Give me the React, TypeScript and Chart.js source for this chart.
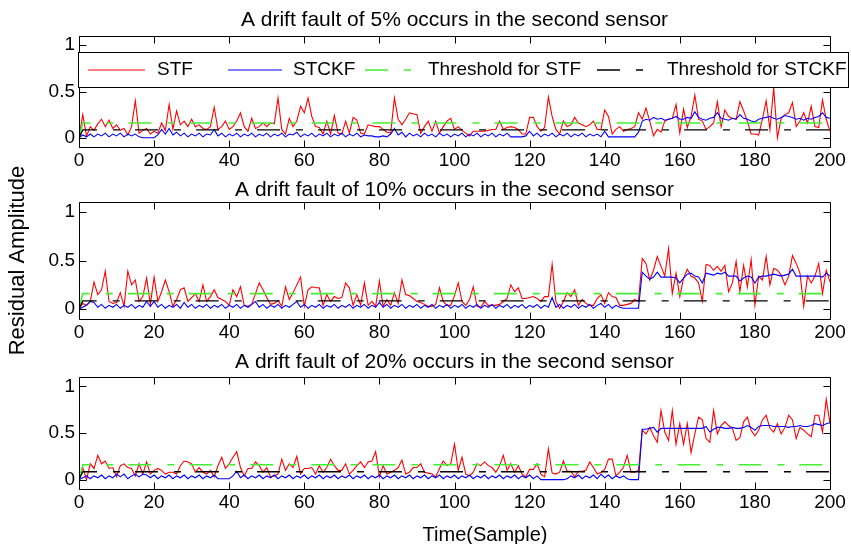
import React, { useEffect, useRef } from 'react';
import { Chart, registerables } from 'chart.js';

Chart.register(...registerables);

// ---------------- data ----------------
const SAMPLES: number[] = [];
for (let i = 0; i <= 200; i++) SAMPLES.push(i); // sample index axis (0..200)

const X_TICKS = [0, 20, 40, 60, 80, 100, 120, 140, 160, 180, 200];
const Y_TICKS = [0, 0.5, 1];

const TITLES = [
  'A drift fault of 5% occurs in the second sensor',
  'A drift fault of 10% occurs in the second sensor',
  'A drift fault of 20% occurs in the second sensor',
];
const X_LABEL = 'Time(Sample)';
const Y_LABEL = 'Residual Amplitude';

const SERIES_NAMES = ['STF', 'STCKF', 'Threshold for STF', 'Threshold for STCKF'];

// thresholds: defined at samples 0, 1 and 200
const THRESHOLD_X = [0, 1, 200];
const THRESHOLD_STF = [0, 0.16, 0.16];
const THRESHOLD_STCKF = [0, 0.085, 0.085];

// 5% drift fault
const STF_5 = [
  0.00, 0.25, 0.02, 0.12, 0.08, 0.15, 0.20, 0.12, 0.19, 0.10,
  0.14, 0.08, 0.10, 0.03, 0.12, 0.40, 0.05, 0.08, 0.10, 0.04,
  0.07, 0.05, 0.16, 0.08, 0.36, 0.09, 0.29, 0.14, 0.18, 0.12,
  0.20, 0.12, 0.14, 0.10, 0.09, 0.12, 0.33, 0.09, 0.12, 0.18,
  0.09, 0.12, 0.18, 0.27, 0.12, 0.07, 0.21, 0.10, 0.12, 0.16,
  0.12, 0.16, 0.15, 0.43, 0.09, 0.04, 0.21, 0.12, 0.18, 0.34,
  0.27, 0.43, 0.23, 0.12, 0.11, 0.04, 0.18, 0.04, 0.24, 0.05,
  0.04, 0.18, 0.05, 0.22, 0.19, 0.05, 0.04, 0.14, 0.13, 0.12,
  0.12, 0.09, 0.06, 0.05, 0.43, 0.20, 0.14, 0.20, 0.27, 0.26,
  0.25, 0.05, 0.12, 0.18, 0.07, 0.18, 0.05, 0.12, 0.18, 0.21,
  0.09, 0.12, 0.08, 0.05, 0.02, 0.07, 0.07, 0.07, 0.07, 0.08,
  0.09, 0.09, 0.18, 0.09, 0.11, 0.12, 0.11, 0.09, 0.04, 0.04,
  0.22, 0.22, 0.12, 0.07, 0.11, 0.44, 0.23, 0.09, 0.04, 0.18,
  0.12, 0.14, 0.22, 0.16, 0.14, 0.12, 0.14, 0.18, 0.09, 0.09,
  0.30, 0.23, 0.04, 0.09, 0.12, 0.07, 0.09, 0.10, 0.12, 0.27,
  0.20, 0.32, 0.18, 0.02, 0.09, 0.06, 0.18, 0.20, 0.21, 0.36,
  0.05, 0.31, 0.11, 0.23, 0.46, 0.20, 0.18, 0.09, 0.12, 0.16,
  0.39, 0.12, 0.30, 0.23, 0.21, 0.20, 0.39, 0.29, 0.18, 0.04,
  0.04, 0.03, 0.20, 0.40, 0.09, 0.54, 0.00, 0.21, 0.25, 0.27,
  0.38, 0.12, 0.18, 0.27, 0.16, 0.34, 0.12, 0.11, 0.41, 0.20,
  0.07,
];
const STCKF_5 = [
  0.00, 0.03, 0.01, 0.04, 0.01, 0.04, 0.02, 0.05, 0.01, 0.04,
  0.02, 0.05, 0.01, 0.04, 0.02, 0.04, 0.01, 0.00, 0.00, 0.00,
  0.00, 0.03, 0.09, 0.04, 0.10, 0.03, 0.06, 0.02, 0.05, 0.01,
  0.04, 0.02, 0.05, 0.01, 0.04, 0.03, 0.09, 0.02, 0.05, 0.01,
  0.04, 0.02, 0.05, 0.01, 0.04, 0.02, 0.05, 0.01, 0.04, 0.02,
  0.05, 0.01, 0.04, 0.02, 0.05, 0.01, 0.04, 0.03, 0.06, 0.01,
  0.04, 0.02, 0.05, 0.01, 0.04, 0.02, 0.05, 0.01, 0.04, 0.02,
  0.05, 0.01, 0.04, 0.02, 0.05, 0.01, 0.03, 0.02, 0.02, 0.01,
  0.01, 0.02, 0.01, 0.04, 0.10, 0.03, 0.06, 0.01, 0.05, 0.02,
  0.04, 0.01, 0.05, 0.02, 0.04, 0.01, 0.05, 0.02, 0.04, 0.01,
  0.04, 0.02, 0.05, 0.01, 0.04, 0.02, 0.05, 0.01, 0.04, 0.02,
  0.05, 0.01, 0.04, 0.02, 0.05, 0.01, 0.01, 0.01, 0.01, 0.02,
  0.07, 0.02, 0.05, 0.01, 0.04, 0.02, 0.05, 0.01, 0.04, 0.02,
  0.05, 0.01, 0.04, 0.02, 0.05, 0.01, 0.04, 0.02, 0.04, 0.01,
  0.07, 0.01, 0.01, 0.01, 0.01, 0.01, 0.01, 0.01, 0.01, 0.06,
  0.18, 0.20, 0.19, 0.22, 0.20, 0.21, 0.19, 0.20, 0.21, 0.23,
  0.20, 0.20, 0.22, 0.21, 0.28, 0.22, 0.20, 0.19, 0.21, 0.22,
  0.27, 0.21, 0.20, 0.19, 0.21, 0.20, 0.25, 0.21, 0.20, 0.18,
  0.17, 0.20, 0.21, 0.22, 0.23, 0.21, 0.20, 0.22, 0.24, 0.23,
  0.22, 0.20, 0.21, 0.19, 0.21, 0.20, 0.22, 0.23, 0.27, 0.22,
  0.21,
];

// 10% drift fault
const STF_10 = [
  0.00, 0.06, 0.04, 0.08, 0.28, 0.15, 0.20, 0.39, 0.08, 0.06,
  0.07, 0.17, 0.03, 0.39, 0.25, 0.30, 0.08, 0.13, 0.32, 0.05,
  0.33, 0.08, 0.18, 0.30, 0.18, 0.03, 0.10, 0.20, 0.22, 0.08,
  0.12, 0.16, 0.08, 0.25, 0.08, 0.13, 0.20, 0.12, 0.10, 0.08,
  0.04, 0.20, 0.13, 0.23, 0.04, 0.03, 0.05, 0.16, 0.27, 0.20,
  0.12, 0.05, 0.06, 0.09, 0.03, 0.23, 0.10, 0.17, 0.25, 0.33,
  0.03, 0.20, 0.23, 0.22, 0.22, 0.04, 0.15, 0.08, 0.13, 0.11,
  0.12, 0.27, 0.22, 0.04, 0.15, 0.04, 0.27, 0.04, 0.08, 0.03,
  0.29, 0.03, 0.10, 0.04, 0.17, 0.06, 0.30, 0.15, 0.14, 0.11,
  0.08, 0.07, 0.05, 0.03, 0.03, 0.05, 0.22, 0.08, 0.04, 0.04,
  0.14, 0.27, 0.08, 0.04, 0.10, 0.23, 0.03, 0.02, 0.08, 0.04,
  0.04, 0.04, 0.05, 0.08, 0.11, 0.25, 0.18, 0.22, 0.11, 0.11,
  0.12, 0.13, 0.11, 0.08, 0.13, 0.13, 0.46, 0.08, 0.01, 0.08,
  0.17, 0.13, 0.20, 0.04, 0.10, 0.06, 0.04, 0.04, 0.11, 0.15,
  0.06, 0.17, 0.13, 0.12, 0.04, 0.04, 0.05, 0.06, 0.10, 0.08,
  0.52, 0.47, 0.30, 0.40, 0.54, 0.44, 0.34, 0.62, 0.16, 0.37,
  0.13, 0.32, 0.41, 0.34, 0.32, 0.27, 0.08, 0.46, 0.45, 0.40,
  0.44, 0.39, 0.45, 0.18, 0.27, 0.49, 0.18, 0.45, 0.23, 0.51,
  0.04, 0.34, 0.30, 0.54, 0.25, 0.42, 0.40, 0.35, 0.25, 0.34,
  0.55, 0.47, 0.37, 0.03, 0.34, 0.27, 0.34, 0.47, 0.16, 0.40,
  0.28,
];
const STCKF_10 = [
  0.00, 0.02, 0.04, 0.08, 0.07, 0.02, 0.05, 0.01, 0.04, 0.02,
  0.05, 0.01, 0.04, 0.02, 0.05, 0.01, 0.04, 0.02, 0.08, 0.03,
  0.08, 0.02, 0.05, 0.01, 0.04, 0.02, 0.05, 0.01, 0.07, 0.02,
  0.05, 0.01, 0.04, 0.02, 0.05, 0.01, 0.04, 0.02, 0.05, 0.01,
  0.04, 0.02, 0.05, 0.01, 0.04, 0.02, 0.05, 0.08, 0.02, 0.05,
  0.01, 0.04, 0.02, 0.05, 0.01, 0.04, 0.02, 0.05, 0.08, 0.02,
  0.05, 0.01, 0.04, 0.02, 0.05, 0.01, 0.04, 0.02, 0.05, 0.01,
  0.04, 0.02, 0.05, 0.01, 0.04, 0.02, 0.05, 0.01, 0.04, 0.02,
  0.07, 0.02, 0.05, 0.01, 0.04, 0.02, 0.05, 0.01, 0.04, 0.02,
  0.05, 0.01, 0.04, 0.02, 0.05, 0.01, 0.04, 0.02, 0.05, 0.01,
  0.04, 0.02, 0.05, 0.01, 0.04, 0.02, 0.05, 0.01, 0.04, 0.02,
  0.05, 0.01, 0.04, 0.02, 0.05, 0.01, 0.04, 0.02, 0.05, 0.01,
  0.04, 0.02, 0.05, 0.01, 0.04, 0.02, 0.12, 0.02, 0.05, 0.01,
  0.04, 0.02, 0.05, 0.01, 0.04, 0.02, 0.05, 0.01, 0.04, 0.06,
  0.02, 0.05, 0.01, 0.04, 0.02, 0.01, 0.01, 0.01, 0.01, 0.01,
  0.38, 0.34, 0.31, 0.33, 0.38, 0.33, 0.33, 0.33, 0.33, 0.32,
  0.27, 0.32, 0.36, 0.37, 0.34, 0.33, 0.27, 0.37, 0.36, 0.35,
  0.37, 0.36, 0.38, 0.34, 0.34, 0.34, 0.29, 0.32, 0.34, 0.33,
  0.27, 0.33, 0.34, 0.34, 0.35, 0.36, 0.35, 0.34, 0.35, 0.36,
  0.41, 0.34, 0.34, 0.34, 0.34, 0.34, 0.34, 0.34, 0.33, 0.37,
  0.34,
];

// 20% drift fault
const STF_20 = [
  0.01, 0.13, 0.00, 0.17, 0.12, 0.26, 0.17, 0.20, 0.12, 0.13,
  0.03, 0.15, 0.17, 0.13, 0.12, 0.04, 0.17, 0.06, 0.19, 0.06,
  0.10, 0.12, 0.10, 0.06, 0.08, 0.08, 0.06, 0.15, 0.20, 0.19,
  0.17, 0.08, 0.13, 0.08, 0.06, 0.10, 0.03, 0.15, 0.24, 0.12,
  0.17, 0.24, 0.30, 0.13, 0.04, 0.12, 0.12, 0.19, 0.15, 0.08,
  0.13, 0.03, 0.04, 0.06, 0.22, 0.10, 0.17, 0.13, 0.25, 0.06,
  0.12, 0.12, 0.13, 0.06, 0.15, 0.08, 0.13, 0.22, 0.15, 0.10,
  0.10, 0.17, 0.06, 0.10, 0.15, 0.19, 0.13, 0.19, 0.20, 0.30,
  0.03, 0.15, 0.06, 0.08, 0.10, 0.13, 0.21, 0.06, 0.08, 0.13,
  0.13, 0.17, 0.08, 0.07, 0.06, 0.03, 0.12, 0.20, 0.15, 0.17,
  0.38, 0.10, 0.24, 0.06, 0.04, 0.08, 0.17, 0.15, 0.19, 0.15,
  0.13, 0.08, 0.15, 0.26, 0.10, 0.17, 0.08, 0.15, 0.06, 0.03,
  0.11, 0.11, 0.17, 0.06, 0.03, 0.33, 0.07, 0.06, 0.08, 0.20,
  0.09, 0.09, 0.03, 0.09, 0.09, 0.10, 0.19, 0.13, 0.06, 0.08,
  0.11, 0.22, 0.22, 0.04, 0.08, 0.13, 0.26, 0.08, 0.08, 0.10,
  0.53, 0.49, 0.56, 0.47, 0.40, 0.74, 0.51, 0.42, 0.74, 0.38,
  0.60, 0.38, 0.60, 0.29, 0.49, 0.67, 0.64, 0.44, 0.40, 0.74,
  0.49, 0.58, 0.62, 0.58, 0.55, 0.42, 0.45, 0.62, 0.67, 0.53,
  0.47, 0.53, 0.64, 0.69, 0.55, 0.51, 0.60, 0.49, 0.56, 0.69,
  0.64, 0.44, 0.56, 0.53, 0.49, 0.46, 0.69, 0.69, 0.51, 0.86,
  0.60,
];
const STCKF_20 = [
  0.00, 0.02, 0.04, 0.01, 0.04, 0.02, 0.05, 0.01, 0.04, 0.02,
  0.06, 0.03, 0.06, 0.01, 0.04, 0.06, 0.03, 0.06, 0.05, 0.02,
  0.05, 0.01, 0.04, 0.02, 0.05, 0.01, 0.04, 0.02, 0.05, 0.01,
  0.04, 0.02, 0.05, 0.01, 0.04, 0.02, 0.05, 0.01, 0.01, 0.01,
  0.01, 0.04, 0.09, 0.02, 0.05, 0.01, 0.04, 0.02, 0.05, 0.01,
  0.04, 0.02, 0.05, 0.01, 0.04, 0.02, 0.05, 0.01, 0.04, 0.02,
  0.05, 0.01, 0.04, 0.02, 0.05, 0.01, 0.04, 0.02, 0.05, 0.01,
  0.04, 0.02, 0.05, 0.01, 0.04, 0.02, 0.05, 0.01, 0.04, 0.02,
  0.05, 0.01, 0.04, 0.02, 0.05, 0.01, 0.04, 0.02, 0.05, 0.01,
  0.04, 0.02, 0.05, 0.01, 0.04, 0.02, 0.05, 0.01, 0.04, 0.02,
  0.05, 0.01, 0.04, 0.02, 0.05, 0.01, 0.04, 0.02, 0.05, 0.01,
  0.04, 0.02, 0.05, 0.01, 0.04, 0.02, 0.05, 0.01, 0.04, 0.02,
  0.05, 0.01, 0.04, 0.00, 0.00, 0.00, 0.00, 0.00, 0.00, 0.00,
  0.01, 0.04, 0.02, 0.05, 0.01, 0.04, 0.02, 0.05, 0.01, 0.06,
  0.02, 0.05, 0.01, 0.04, 0.02, 0.04, 0.01, 0.00, 0.00, 0.00,
  0.54, 0.54, 0.55, 0.56, 0.51, 0.55, 0.55, 0.55, 0.55, 0.55,
  0.55, 0.55, 0.55, 0.55, 0.55, 0.55, 0.55, 0.57, 0.51, 0.54,
  0.56, 0.56, 0.55, 0.55, 0.56, 0.55, 0.55, 0.56, 0.58, 0.56,
  0.53, 0.57, 0.58, 0.58, 0.58, 0.57, 0.57, 0.57, 0.57, 0.56,
  0.57, 0.57, 0.58, 0.57, 0.57, 0.58, 0.60, 0.59, 0.58, 0.60,
  0.61,
];

const PANEL_STF = [STF_5, STF_10, STF_20];
const PANEL_STCKF = [STCKF_5, STCKF_10, STCKF_20];

// ---------------- styling / layout ----------------
const FONT = 'Liberation Sans, Arial, Helvetica, sans-serif';
const W = 851;
const H = 544;
const PLOT_LEFT = 79;
const PLOT_RIGHT = 830;
const PAD_LEFT = 7;
const PANELS = [
  { top: 36, bottom: 147, xAxisH: 30, titleY: 20 },
  { top: 202, bottom: 319, xAxisH: 30, titleY: 190 },
  { top: 377, bottom: 489, xAxisH: 55, titleY: 362 },
];
const X_LABEL_POS = { x: 485, y: 535 };
const DASH = [23, 16, 7, 15];
const TICK_LEN = 7;

const LEGEND = {
  box: { left: 78, right: 848, top: 52, bottom: 87 },
  items: [
    { x1: 88, x2: 145, tx: 157 },
    { x1: 228, x2: 282, tx: 293 },
    { x1: 365, x2: 418, tx: 428 },
    { x1: 597, x2: 657, tx: 667 },
  ],
};

const matlabPlugin = {
  id: 'matlabAxes',
  afterDraw(chart: any, _args: any, opts: any) {
    const { ctx, chartArea: a, scales } = chart;
    ctx.save();
    ctx.strokeStyle = '#000';
    ctx.lineWidth = 1;
    ctx.setLineDash([]);
    const L = Math.round(a.left) + 0.5;
    const R = Math.round(a.right) + 0.5;
    const T = Math.round(a.top) + 0.5;
    const B = Math.round(a.bottom) + 0.5;
    ctx.beginPath();
    ctx.rect(L, T, R - L, B - T);
    const xs = scales.x;
    xs.ticks.forEach((t: any) => {
      const px = Math.round(xs.getPixelForValue(t.value)) + 0.5;
      ctx.moveTo(px, B);
      ctx.lineTo(px, B - TICK_LEN);
      ctx.moveTo(px, T);
      ctx.lineTo(px, T + TICK_LEN);
    });
    const ys = scales.y;
    ys.ticks.forEach((t: any) => {
      const py = Math.round(ys.getPixelForValue(t.value)) + 0.5;
      ctx.moveTo(L, py);
      ctx.lineTo(L + TICK_LEN, py);
      ctx.moveTo(R, py);
      ctx.lineTo(R - TICK_LEN, py);
    });
    ctx.stroke();

    // subplot title
    ctx.fillStyle = '#000';
    ctx.font = `21px ${FONT}`;
    ctx.textAlign = 'center';
    ctx.textBaseline = 'middle';
    ctx.fillText(opts.title, (a.left + a.right) / 2, opts.titleY);

    if (opts.xLabel) {
      ctx.font = `20px ${FONT}`;
      ctx.fillText(opts.xLabel.text, opts.xLabel.x, opts.xLabel.y);
    }

    if (opts.legend) {
      const lg = opts.legend;
      const b = lg.box;
      ctx.fillStyle = '#fff';
      ctx.fillRect(b.left, b.top, b.right - b.left, b.bottom - b.top);
      ctx.strokeStyle = '#000';
      ctx.lineWidth = 1;
      ctx.strokeRect(b.left + 0.5, b.top + 0.5, b.right - b.left, b.bottom - b.top);
      const cy = (b.top + b.bottom) / 2 + 0.5;
      ctx.font = `19px ${FONT}`;
      ctx.textAlign = 'left';
      ctx.textBaseline = 'middle';
      chart.data.datasets.forEach((ds: any, i: number) => {
        const it = lg.items[i];
        if (!it) return;
        ctx.strokeStyle = ds.borderColor;
        ctx.lineWidth = ds.borderWidth;
        ctx.setLineDash(ds.borderDash || []);
        ctx.beginPath();
        ctx.moveTo(it.x1, cy);
        ctx.lineTo(it.x2, cy);
        ctx.stroke();
        ctx.setLineDash([]);
        ctx.fillStyle = '#000';
        ctx.fillText(ds.label, it.tx, cy);
      });
    }
    ctx.restore();
  },
};

function makeConfig(p: number): any {
  const panel = PANELS[p];
  const thrData = (vals: number[]) => THRESHOLD_X.map((x, i) => ({ x, y: vals[i] }));
  return {
    type: 'line',
    data: {
      labels: SAMPLES,
      datasets: [
        { label: SERIES_NAMES[0], data: PANEL_STF[p], borderColor: '#ff0000', borderWidth: 1.1, pointRadius: 0, order: 4 },
        { label: SERIES_NAMES[1], data: PANEL_STCKF[p], borderColor: '#0000ff', borderWidth: 1.1, pointRadius: 0, order: 3 },
        { label: SERIES_NAMES[2], data: thrData(THRESHOLD_STF), borderColor: '#44ee33', borderWidth: 1.6, borderDash: DASH, pointRadius: 0, order: 2 },
        { label: SERIES_NAMES[3], data: thrData(THRESHOLD_STCKF), borderColor: '#000000', borderWidth: 1.3, borderDash: DASH, pointRadius: 0, order: 1 },
      ],
    },
    options: {
      responsive: false,
      animation: false,
      devicePixelRatio: 1,
      events: [],
      layout: {
        padding: {
          left: PAD_LEFT,
          right: W - PLOT_RIGHT,
          top: panel.top,
          bottom: H - panel.bottom - panel.xAxisH,
        },
      },
      elements: { line: { tension: 0, fill: false } },
      scales: {
        x: {
          type: 'linear',
          min: 0,
          max: 200,
          grid: { display: false, drawTicks: false },
          border: { display: false },
          afterBuildTicks: (s: any) => { s.ticks = X_TICKS.map((v) => ({ value: v })); },
          afterFit: (s: any) => { s.height = panel.xAxisH; },
          ticks: {
            color: '#000',
            font: { family: FONT, size: 19 },
            padding: 2,
            maxRotation: 0,
            autoSkip: false,
            callback: (v: any) => String(v),
          },
        },
        y: {
          type: 'linear',
          min: -0.1,
          max: 1.1,
          grid: { display: false, drawTicks: false },
          border: { display: false },
          afterBuildTicks: (s: any) => { s.ticks = Y_TICKS.map((v) => ({ value: v })); },
          afterFit: (s: any) => { s.width = PLOT_LEFT - PAD_LEFT; },
          ticks: {
            color: '#000',
            font: { family: FONT, size: 19 },
            padding: 4,
            callback: (v: any) => String(v),
          },
          title: p === 1
            ? { display: true, text: Y_LABEL, color: '#000', font: { family: FONT, size: 22, lineHeight: 1 }, padding: 0 }
            : { display: false },
        },
      },
      plugins: {
        legend: { display: false },
        tooltip: { enabled: false },
        matlabAxes: {
          title: TITLES[p],
          titleY: panel.titleY,
          legend: p === 0 ? LEGEND : null,
          xLabel: p === 2 ? { text: X_LABEL, ...X_LABEL_POS } : null,
        },
      },
    },
    plugins: [matlabPlugin],
  };
}

export default function App() {
  const r0 = useRef<HTMLCanvasElement>(null);
  const r1 = useRef<HTMLCanvasElement>(null);
  const r2 = useRef<HTMLCanvasElement>(null);

  useEffect(() => {
    const refs = [r0, r1, r2];
    const charts = refs.map((r, i) => new Chart(r.current as HTMLCanvasElement, makeConfig(i)));
    return () => charts.forEach((c) => c.destroy());
  }, []);

  const cs: React.CSSProperties = { position: 'absolute', left: 0, top: 0, width: W, height: H };
  return (
    <div style={{ position: 'fixed', left: 0, top: 0, width: W, height: H, background: '#fff' }}>
      <canvas ref={r0} width={W} height={H} style={cs} />
      <canvas ref={r1} width={W} height={H} style={cs} />
      <canvas ref={r2} width={W} height={H} style={cs} />
    </div>
  );
}
